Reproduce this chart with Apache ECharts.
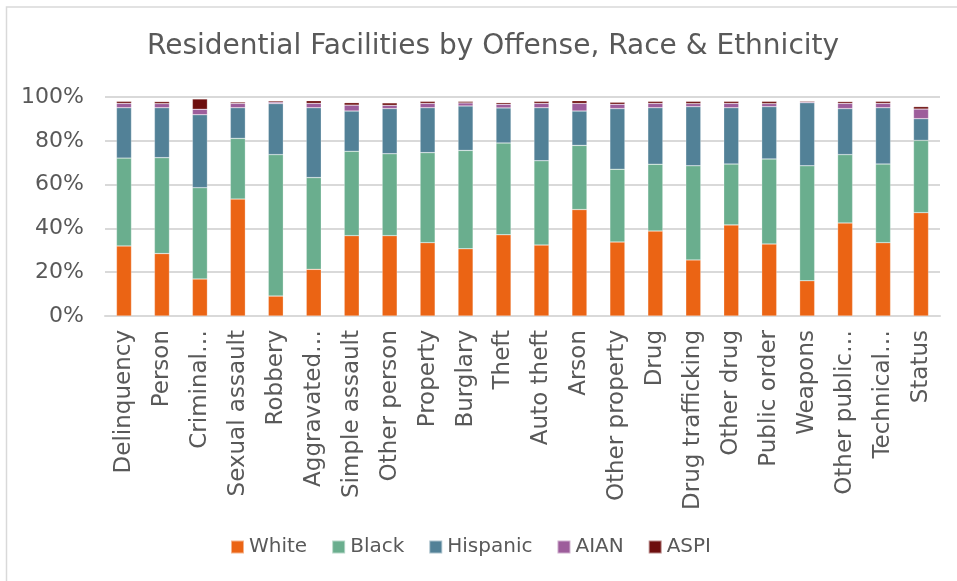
<!DOCTYPE html>
<html>
<head>
<meta charset="utf-8">
<script src="https://cdn.jsdelivr.net/npm/echarts@6/dist/echarts.min.js"></script>
<style>
html,body{margin:0;padding:0;background:#fff;}
#c{width:957px;height:581px;}
</style>
</head>
<body>
<div id="c"></div>
<script>
var categories = ['Delinquency','Person','Criminal…','Sexual assault','Robbery','Aggravated…','Simple assault','Other person','Property','Burglary','Theft','Auto theft','Arson','Other property','Drug','Drug trafficking','Other drug','Public order','Weapons','Other public…','Technical…','Status'];
var white    = [32.0,28.5,16.9,53.4, 9.1,21.3,36.7,36.7,33.5,30.7,37.1,32.4,48.6,33.8,38.8,25.6,41.6,32.9,16.1,42.5,33.5,47.2];
var black    = [40.1,43.8,41.7,27.7,64.6,41.9,38.5,37.4,41.1,44.9,41.9,38.5,29.3,33.2,30.5,43.0,27.8,38.8,52.5,31.2,35.9,33.0];
var hispanic = [23.0,22.8,33.3,14.0,23.3,31.9,18.4,20.6,20.5,20.3,16.0,24.2,15.7,27.7,25.8,27.0,25.7,23.9,28.8,21.0,25.7, 9.9];
var aian     = [ 2.0, 1.9, 2.5, 2.0, 0.7, 2.0, 2.7, 1.5, 2.0, 1.4, 1.7, 2.0, 3.5, 2.0, 2.0, 1.4, 2.0, 1.4, 0.5, 2.4, 2.0, 4.4];
var aspi     = [ 0.9, 0.9, 4.7, 0.6, 0.6, 1.2, 1.1, 1.1, 0.9, 0.7, 0.7, 0.9, 1.2, 0.9, 0.9, 1.0, 0.9, 1.0, 0.4, 0.8, 0.9, 1.1];
var yTicks = [0,20,40,60,80,100];

var FONT = '"DejaVu Sans", sans-serif';
var TXT = '#595959';
var seriesDefs = [
  ['White', white, '#EB6414'],
  ['Black', black, '#6AAE8E'],
  ['Hispanic', hispanic, '#528197'],
  ['AIAN', aian, '#9D5D9B'],
  ['ASPI', aspi, '#6D0E0E']
];
var chart = echarts.init(document.getElementById('c'), null, {renderer:'canvas'});
chart.setOption({
  animation:false,
  backgroundColor:'#fff',
  title:{text:'Residential Facilities by Offense, Race & Ethnicity', left:142, top:28,
    textStyle:{fontFamily:FONT, fontSize:28, fontWeight:'normal', color:TXT}},
  legend:{bottom:19, left:225, itemWidth:13, itemHeight:13, itemGap:24, icon:'rect',
    textStyle:{fontFamily:FONT, fontSize:20, color:TXT},
    data:seriesDefs.map(function(s){return s[0];})},
  grid:{left:105, right:17, top:97, bottom:265, containLabel:false},
  xAxis:{type:'category', data:categories,
    axisLine:{lineStyle:{color:'#d9d9d9', width:2}}, axisTick:{show:false},
    axisLabel:{rotate:90, interval:0, fontFamily:FONT, fontSize:23, color:TXT, margin:14}},
  yAxis:{type:'value', min:yTicks[0], max:yTicks[yTicks.length-1], interval:20,
    axisLine:{show:false}, axisTick:{show:false},
    splitLine:{lineStyle:{color:'#d9d9d9', width:2}},
    axisLabel:{formatter:'{value}%', fontFamily:FONT, fontSize:22, color:TXT, margin:21}},
  graphic:[{type:'rect', shape:{x:6.5, y:7, width:1000, height:1000}, style:{fill:'none', stroke:'#d9d9d9', lineWidth:1.5}, silent:true, z:-1}],
  series:seriesDefs.map(function(s){
    return {name:s[0], type:'bar', stack:'all', data:s[1], barWidth:15,
      itemStyle:{color:s[2], borderColor:'rgba(255,255,255,0.5)', borderWidth:0.5}};
  })
});
</script>
</body>
</html>
